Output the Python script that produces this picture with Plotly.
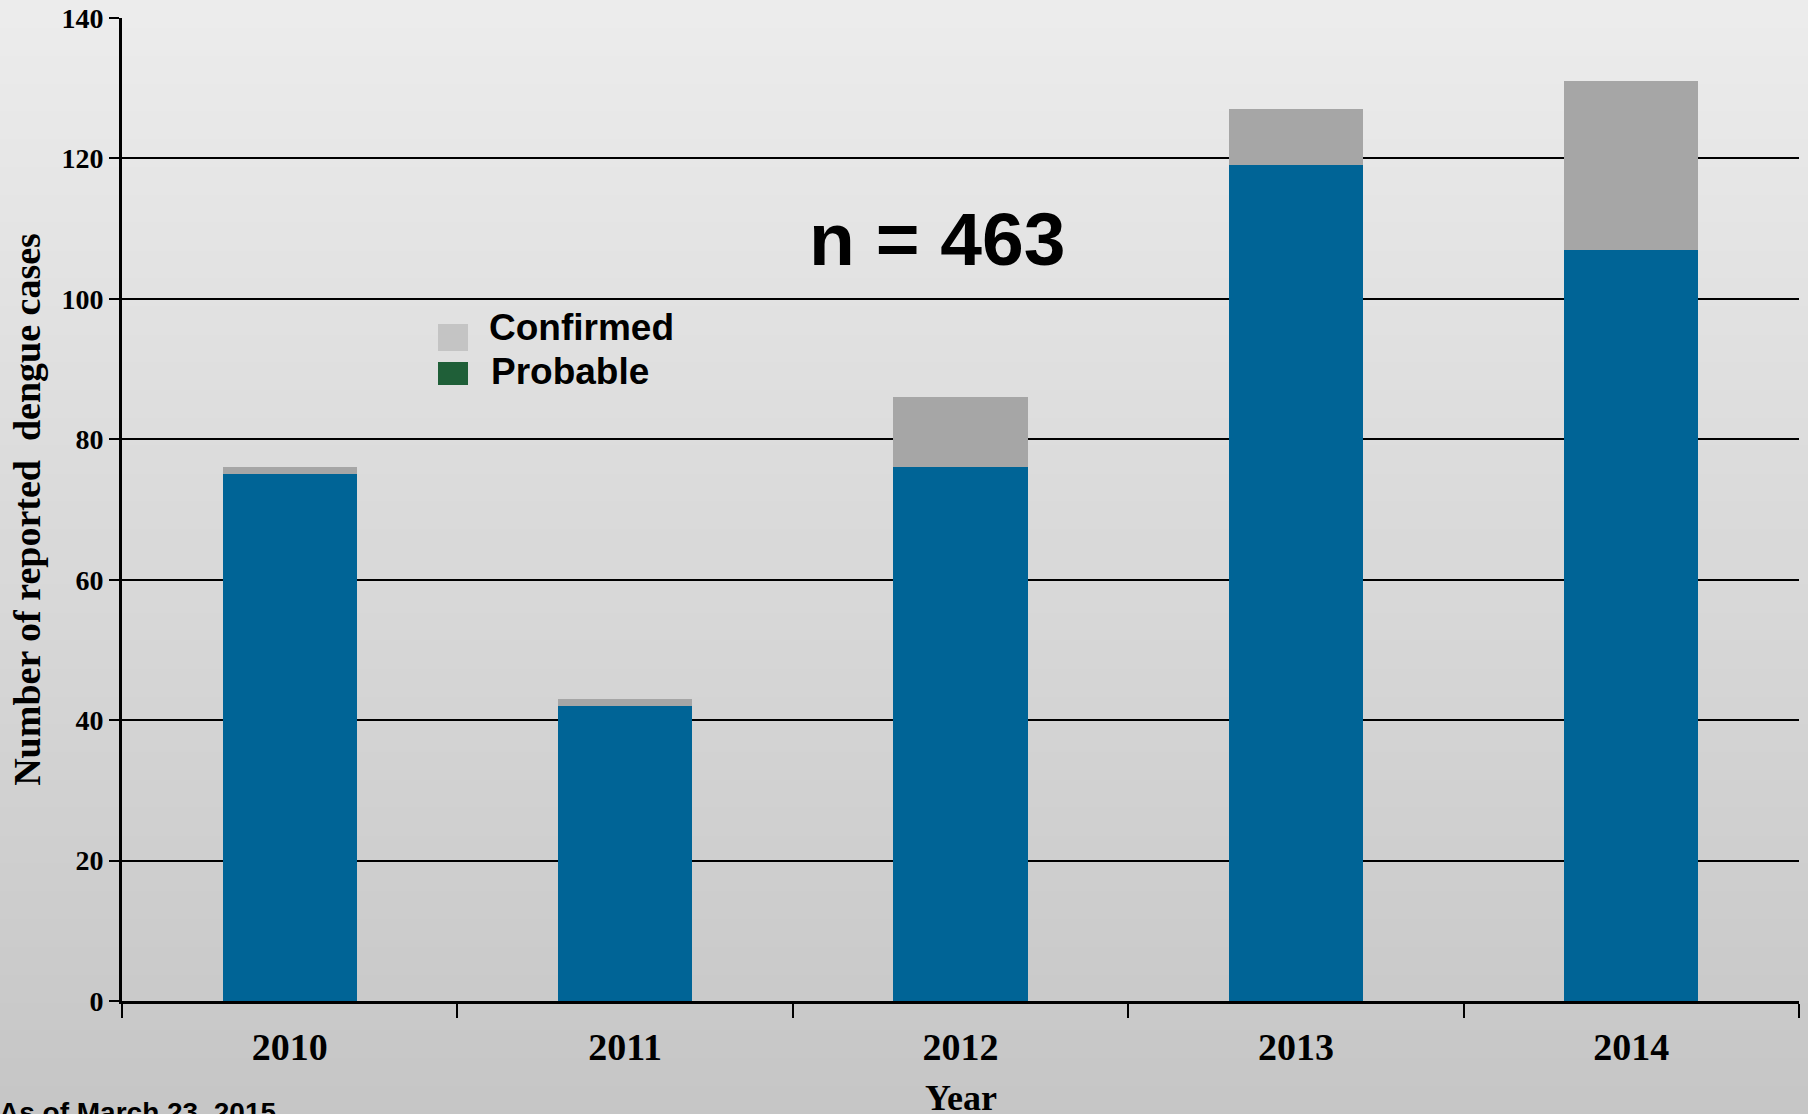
import plotly.graph_objects as go

years = ["2010", "2011", "2012", "2013", "2014"]
blue_cases = [75, 42, 76, 119, 107]
gray_cases = [1, 1, 10, 8, 24]
y_ticks = [0, 20, 40, 60, 80, 100, 120, 140]
legend_labels = ["Confirmed", "Probable"]
total_label = "n = 463"
footnote = "As of March 23, 2015"
x_title = "Year"

W, H = 1808, 1114
L, R, T, B = 122, 9, 18, 113
pw, ph = W - L - R, H - T - B

def px(x):
    return (x - L) / pw

def py(y):
    return (H - B - y) / ph

fig = go.Figure()
fig.add_trace(go.Bar(x=years, y=blue_cases, marker=dict(color="#006496", line=dict(width=0)),
                     showlegend=False, name="Blue"))
fig.add_trace(go.Bar(x=years, y=gray_cases, marker=dict(color="#A6A6A6", line=dict(width=0)),
                     showlegend=False, name="Gray"))

shapes = []
# background gradient bands (styling only)
nb = 40
top_c, bot_c = 236, 198
for i in range(nb):
    y0p, y1p = i * H / nb - (20 if i == 0 else 0), (i + 1) * H / nb + (20 if i == nb - 1 else 1)
    c = int(round(top_c + (bot_c - top_c) * (i + 0.5) / nb))
    shapes.append(dict(type="rect", xref="paper", yref="paper", layer="below",
                       x0=px(-10), x1=px(W + 10), y0=py(y1p), y1=py(y0p),
                       fillcolor=f"rgb({c},{c},{c})", line=dict(width=0)))
# legend swatches
shapes.append(dict(type="rect", xref="paper", yref="paper", x0=px(438), x1=px(468),
                   y0=py(351), y1=py(324), fillcolor="#C4C4C4", line=dict(width=0)))
shapes.append(dict(type="rect", xref="paper", yref="paper", x0=px(438), x1=px(468),
                   y0=py(385), y1=py(362), fillcolor="#1F5F38", line=dict(width=0)))

annotations = [
    dict(text=legend_labels[0], xref="paper", yref="paper", x=px(487), y=py(328),
         xanchor="left", yanchor="middle", showarrow=False,
         font=dict(family="Liberation Sans", size=37, color="black", weight="bold")),
    dict(text=legend_labels[1], xref="paper", yref="paper", x=px(489), y=py(372),
         xanchor="left", yanchor="middle", showarrow=False,
         font=dict(family="Liberation Sans", size=37, color="black", weight="bold")),
    dict(text=total_label, xref="paper", yref="paper", x=px(937), y=py(239),
         xanchor="center", yanchor="middle", showarrow=False,
         font=dict(family="Liberation Sans", size=75, color="black", weight="bold")),
    dict(text=footnote, xref="paper", yref="paper", x=px(-3), y=py(1095),
         xanchor="left", yanchor="top", showarrow=False,
         font=dict(family="Liberation Sans", size=28, color="black", weight="bold")),
    dict(text=x_title, xref="paper", yref="paper", x=0.5, y=py(1098),
         xanchor="center", yanchor="middle", showarrow=False,
         font=dict(family="Liberation Serif", size=36, color="black", weight="bold")),
]

fig.update_layout(
    width=W, height=H,
    margin=dict(l=L, r=R, t=T, b=B, pad=0, autoexpand=False),
    paper_bgcolor="#dcdcdc", plot_bgcolor="rgba(0,0,0,0)",
    barmode="stack", bargap=0.6,
    shapes=shapes, annotations=annotations,
    showlegend=False,
    xaxis=dict(
        type="category", tickson="boundaries", ticks="outside", ticklen=14, tickwidth=1.5,
        tickcolor="black", showline=True, linecolor="black", linewidth=3,
        showgrid=False, ticklabelstandoff=10, automargin=False,
        tickfont=dict(family="Liberation Serif", size=38, color="black", weight="bold"),
    ),
    yaxis=dict(
        range=[0, 140], tickvals=y_ticks, ticks="outside", ticklen=10, tickwidth=1.5,
        tickcolor="black", showline=True, linecolor="black", linewidth=3,
        showgrid=True, gridcolor="black", gridwidth=1.5, zeroline=False, automargin=False,
        tickfont=dict(family="Liberation Serif", size=28, color="black", weight="bold"),
        title=dict(text="Number of reported  dengue cases", standoff=10,
                   font=dict(family="Liberation Serif", size=38, color="black", weight="bold")),
    ),
)

fig.write_html("out.html")
